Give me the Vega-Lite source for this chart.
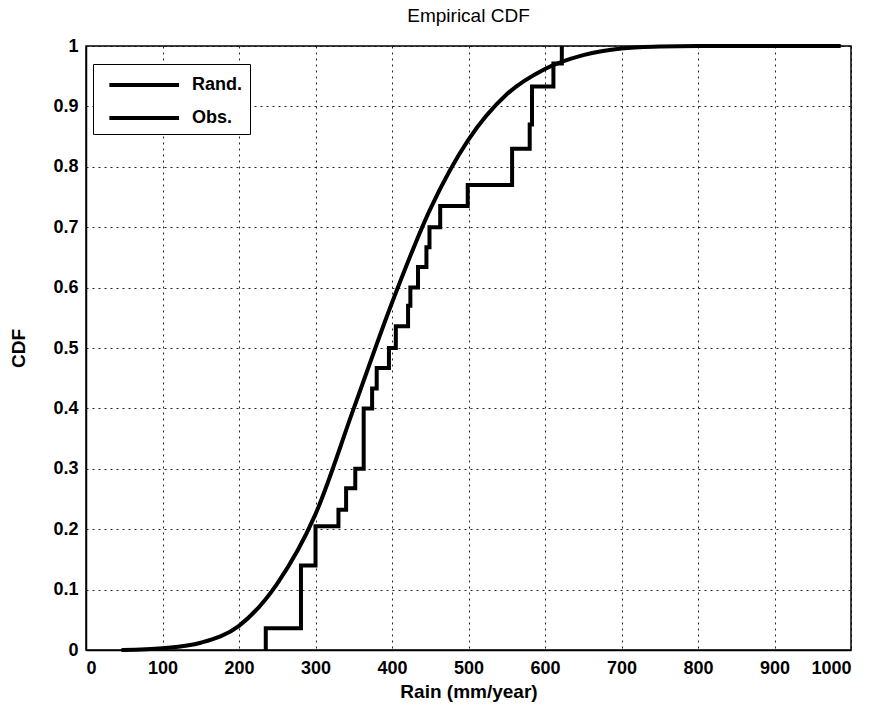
{
  "$schema": "https://vega.github.io/schema/vega-lite/v6.json",
  "autosize": {"type": "none"},
  "padding": {"left": 86, "top": 46, "right": 35, "bottom": 58},
  "width": 765,
  "height": 604,
  "background": "white",
  "title": {"text": "Empirical CDF", "fontSize": 19, "fontWeight": "normal", "font": "Liberation Sans", "color": "black", "offset": 11, "anchor": "middle"},
  "config": {
    "view": {"stroke": "black", "strokeWidth": 1.5},
    "axis": {
      "labelFont": "Liberation Sans", "labelFontSize": 18, "labelFontWeight": "bold", "labelColor": "black",
      "titleFont": "Liberation Sans", "titleFontSize": 19, "titleFontWeight": "bold", "titleColor": "black",
      "domainColor": "black", "domainWidth": 1.5,
      "tickSize": 0,
      "grid": true, "gridColor": "black", "gridDash": [2, 4], "gridWidth": 1, "gridOpacity": 0.85
    },
    "legend": {
      "labelFont": "Liberation Sans", "labelFontSize": 18, "labelFontWeight": "bold", "labelColor": "black"
    }
  },
  "datasets": {
    "rand": [
      {"series": "Rand.", "rain": 48, "cdf": 0},
      {"series": "Rand.", "rain": 100, "cdf": 0.003},
      {"series": "Rand.", "rain": 150, "cdf": 0.012},
      {"series": "Rand.", "rain": 200, "cdf": 0.04},
      {"series": "Rand.", "rain": 250, "cdf": 0.11},
      {"series": "Rand.", "rain": 300, "cdf": 0.225},
      {"series": "Rand.", "rain": 350, "cdf": 0.4},
      {"series": "Rand.", "rain": 400, "cdf": 0.575},
      {"series": "Rand.", "rain": 450, "cdf": 0.73},
      {"series": "Rand.", "rain": 500, "cdf": 0.845},
      {"series": "Rand.", "rain": 550, "cdf": 0.92},
      {"series": "Rand.", "rain": 600, "cdf": 0.962},
      {"series": "Rand.", "rain": 650, "cdf": 0.985},
      {"series": "Rand.", "rain": 700, "cdf": 0.996},
      {"series": "Rand.", "rain": 750, "cdf": 0.999},
      {"series": "Rand.", "rain": 800, "cdf": 1.0},
      {"series": "Rand.", "rain": 985, "cdf": 1.0}
    ],
    "obs": [
      {"series": "Obs.", "rain": 235, "cdf": 0},
      {"series": "Obs.", "rain": 235, "cdf": 0.036},
      {"series": "Obs.", "rain": 281, "cdf": 0.14},
      {"series": "Obs.", "rain": 300, "cdf": 0.205},
      {"series": "Obs.", "rain": 330, "cdf": 0.232},
      {"series": "Obs.", "rain": 340, "cdf": 0.268},
      {"series": "Obs.", "rain": 352, "cdf": 0.3},
      {"series": "Obs.", "rain": 363, "cdf": 0.4},
      {"series": "Obs.", "rain": 374, "cdf": 0.433},
      {"series": "Obs.", "rain": 380, "cdf": 0.467},
      {"series": "Obs.", "rain": 396, "cdf": 0.5},
      {"series": "Obs.", "rain": 405, "cdf": 0.536},
      {"series": "Obs.", "rain": 421, "cdf": 0.57},
      {"series": "Obs.", "rain": 424, "cdf": 0.6},
      {"series": "Obs.", "rain": 434, "cdf": 0.634},
      {"series": "Obs.", "rain": 445, "cdf": 0.667},
      {"series": "Obs.", "rain": 449, "cdf": 0.7},
      {"series": "Obs.", "rain": 463, "cdf": 0.735},
      {"series": "Obs.", "rain": 499, "cdf": 0.77},
      {"series": "Obs.", "rain": 557, "cdf": 0.83},
      {"series": "Obs.", "rain": 580, "cdf": 0.87},
      {"series": "Obs.", "rain": 583, "cdf": 0.933},
      {"series": "Obs.", "rain": 611, "cdf": 0.971},
      {"series": "Obs.", "rain": 622, "cdf": 1.0}
    ]
  },
  "encoding": {
    "x": {"field": "rain", "type": "quantitative", "scale": {"domain": [0, 1000], "nice": false},
      "axis": {"title": "Rain (mm/year)", "values": [0, 100, 200, 300, 400, 500, 600, 700, 800, 900, 1000], "format": "d", "labelPadding": 9, "titlePadding": 5}},
    "y": {"field": "cdf", "type": "quantitative", "scale": {"domain": [0, 1], "nice": false},
      "axis": {"title": "CDF", "values": [0, 0.1, 0.2, 0.3, 0.4, 0.5, 0.6, 0.7, 0.8, 0.9, 1], "format": "~g", "labelPadding": 8, "titlePadding": 24}},
    "color": {"field": "series", "type": "nominal",
      "scale": {"domain": ["Rand.", "Obs."], "range": ["black", "black"]},
      "legend": {"title": null, "orient": "none", "legendX": 7, "legendY": 18, "padding": 7,
        "strokeColor": "black", "fillColor": "white",
        "symbolType": "M-0.4,0H5.6", "symbolSize": 540, "symbolStrokeWidth": 4,
        "labelOffset": 64, "rowPadding": 10}}
  },
  "layer": [
    {"data": {"name": "rand"}, "mark": {"type": "line", "interpolate": "monotone", "strokeWidth": 4, "strokeCap": "round"}},
    {"data": {"name": "obs"}, "mark": {"type": "line", "interpolate": "step-after", "strokeWidth": 4}}
  ]
}
